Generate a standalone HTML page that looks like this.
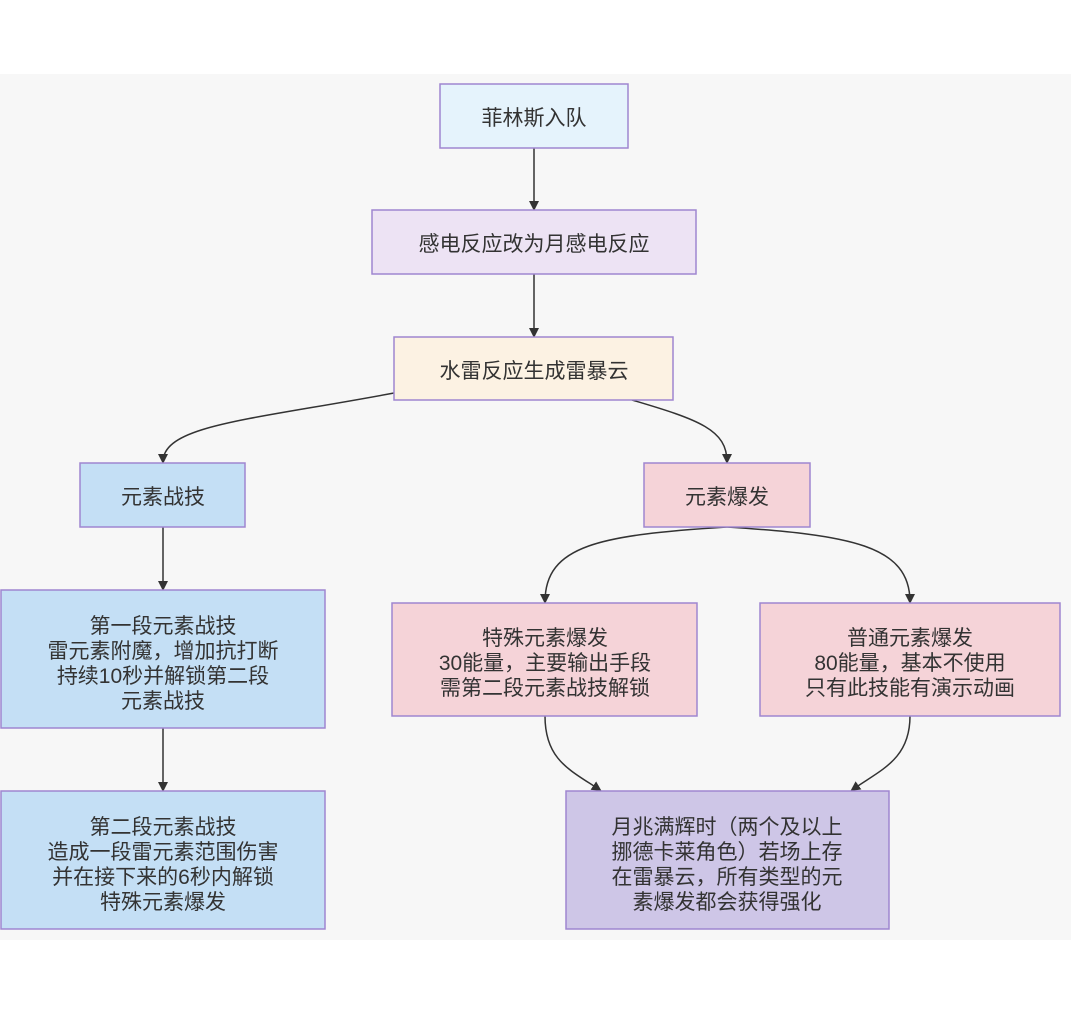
<!DOCTYPE html>
<html><head><meta charset="utf-8"><style>
html,body{margin:0;padding:0;background:#fff;}
svg{display:block;}
text{font-family:"Liberation Sans","Noto Sans CJK SC",sans-serif;font-size:21px;fill:#333;text-anchor:middle;}
</style></head><body>
<svg width="1071" height="1022" viewBox="0 0 1071 1022" xmlns="http://www.w3.org/2000/svg">
<defs><marker id="a" markerWidth="10" markerHeight="10" refX="8" refY="5" orient="auto" markerUnits="userSpaceOnUse"><path d="M0,0 L10,5 L0,10 z" fill="#333"/></marker></defs>
<rect x="0" y="74" width="1071" height="866" fill="#f7f7f7"/>
<g stroke="#333" stroke-width="1.5" fill="none" marker-end="url(#a)">
<path d="M534,148 V209"/>
<path d="M534,274 V336"/>
<path d="M394,393 C250,420 163,425 163,462"/>
<path d="M632,400 C700,420 727,430 727,462"/>
<path d="M163,527 V589"/>
<path d="M163,728 V790"/>
<path d="M727,527 C600,535 545,545 545,602"/>
<path d="M727,527 C850,535 910,545 910,602"/>
<path d="M545,716 C545,760 570,770 600,790"/>
<path d="M910,716 C910,760 880,770 852,790"/>
</g>
<g stroke="#9f86d0" stroke-width="1.5">
<rect x="440" y="84" width="188" height="64" fill="#e5f3fc"/>
<rect x="372" y="210" width="324" height="64" fill="#ede3f4"/>
<rect x="394" y="337" width="279" height="63" fill="#fcf2e3"/>
<rect x="80" y="463" width="165" height="64" fill="#c4dff5"/>
<rect x="644" y="463" width="166" height="64" fill="#f5d3d8"/>
<rect x="1" y="590" width="324" height="138" fill="#c4dff5"/>
<rect x="392" y="603" width="305" height="113" fill="#f5d3d8"/>
<rect x="760" y="603" width="300" height="113" fill="#f5d3d8"/>
<rect x="1" y="791" width="324" height="138" fill="#c4dff5"/>
<rect x="566" y="791" width="323" height="138" fill="#cec6e7"/>
</g>
<text x="534" y="125">菲林斯入队</text>
<text x="534" y="251">感电反应改为月感电反应</text>
<text x="534" y="378">水雷反应生成雷暴云</text>
<text x="163" y="504">元素战技</text>
<text x="727" y="504">元素爆发</text>
<text x="163" y="633">第一段元素战技</text>
<text x="163" y="658">雷元素附魔，增加抗打断</text>
<text x="163" y="683">持续10秒并解锁第二段</text>
<text x="163" y="708">元素战技</text>
<text x="545" y="645">特殊元素爆发</text>
<text x="545" y="670">30能量，主要输出手段</text>
<text x="545" y="695">需第二段元素战技解锁</text>
<text x="910" y="645">普通元素爆发</text>
<text x="910" y="670">80能量，基本不使用</text>
<text x="910" y="695">只有此技能有演示动画</text>
<text x="163" y="834">第二段元素战技</text>
<text x="163" y="859">造成一段雷元素范围伤害</text>
<text x="163" y="884">并在接下来的6秒内解锁</text>
<text x="163" y="909">特殊元素爆发</text>
<text x="727" y="834">月兆满辉时（两个及以上</text>
<text x="727" y="859">挪德卡莱角色）若场上存</text>
<text x="727" y="884">在雷暴云，所有类型的元</text>
<text x="727" y="909">素爆发都会获得强化</text>
</svg>
</body></html>
